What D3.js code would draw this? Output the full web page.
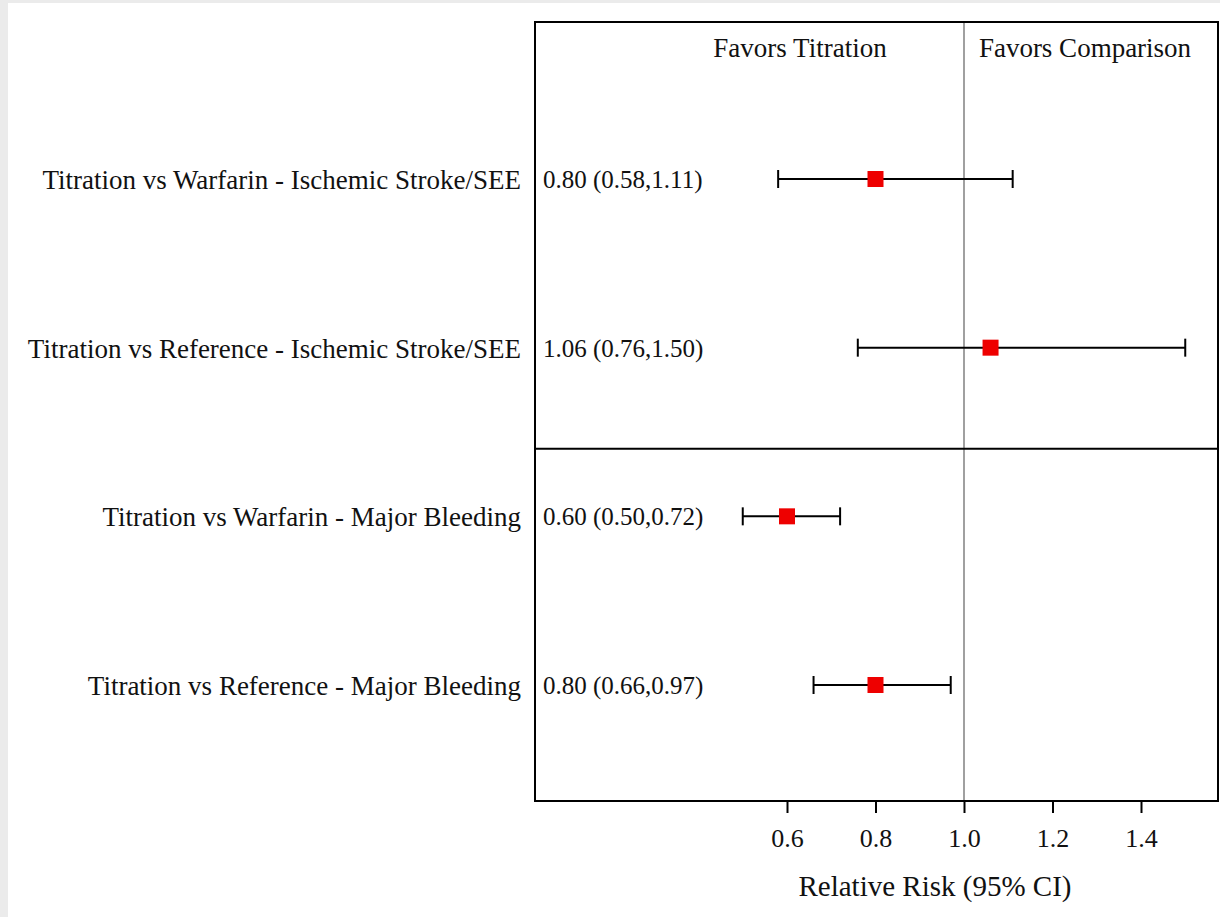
<!DOCTYPE html>
<html>
<head>
<meta charset="utf-8">
<script src="https://cdn.jsdelivr.net/npm/d3@7"></script>
<style>
  body { margin: 0; background: #ebebeb; }
  svg { display: block; }
  text { font-family: "Liberation Serif", "Times New Roman", serif; fill: #111; }
</style>
</head>
<body>
<div id="chart"></div>
<script>
const labels = [
  'Titration vs Warfarin - Ischemic Stroke/SEE',
  'Titration vs Reference - Ischemic Stroke/SEE',
  'Titration vs Warfarin - Major Bleeding',
  'Titration vs Reference - Major Bleeding'
];
const estimates = [0.80, 1.06, 0.60, 0.80];
const lower = [0.58, 0.76, 0.50, 0.66];
const upper = [1.11, 1.50, 0.72, 0.97];
const ticks = [0.6, 0.8, 1.0, 1.2, 1.4];
const headers = ['Favors Titration', 'Favors Comparison'];

const width = 1220, height = 917;
const frameL = 535, frameR = 1218, frameT = 22, frameB = 801;

const svg = d3.select('#chart').append('svg')
  .attr('width', width)
  .attr('height', height);

// white page with grey edge strip
svg.append('rect')
  .attr('x', 8).attr('y', 3)
  .attr('width', width - 8).attr('height', height - 3)
  .attr('fill', '#fff');

const x = d3.scaleLinear().domain([0.6, 1.4]).range([787, 1141]);
const y = d3.scaleLinear().domain([0, 3]).range([179, 685]);

// 1.0 reference line
svg.append('line')
  .attr('x1', x(1)).attr('x2', x(1))
  .attr('y1', frameT).attr('y2', frameB)
  .attr('stroke', '#808080').attr('stroke-width', 1.5);

// divider between outcome groups
svg.append('line')
  .attr('x1', frameL).attr('x2', frameR)
  .attr('y1', y(1.6)).attr('y2', y(1.6))
  .attr('stroke', '#000').attr('stroke-width', 2);

svg.append('rect')
  .attr('x', frameL).attr('y', frameT)
  .attr('width', frameR - frameL).attr('height', frameB - frameT)
  .attr('fill', 'none')
  .attr('stroke', '#000').attr('stroke-width', 2);

// headers
svg.append('text')
  .attr('x', 800).attr('y', 57)
  .attr('text-anchor', 'middle').attr('font-size', 27)
  .text(headers[0]);
svg.append('text')
  .attr('x', 1085).attr('y', 57)
  .attr('text-anchor', 'middle').attr('font-size', 27)
  .text(headers[1]);

const rows = labels.map((l, i) => ({ label: l, est: estimates[i], lo: lower[i], hi: upper[i], i }));

const g = svg.selectAll('g.row').data(rows).enter().append('g').attr('class', 'row');

g.append('text')
  .attr('x', 521).attr('y', d => y(d.i) + 10)
  .attr('text-anchor', 'end').attr('font-size', 27)
  .text(d => d.label);

g.append('text')
  .attr('x', 543).attr('y', d => y(d.i) + 9)
  .attr('font-size', 25)
  .text(d => `${d.est.toFixed(2)} (${d.lo.toFixed(2)},${d.hi.toFixed(2)})`);

g.append('line')
  .attr('x1', d => x(d.lo)).attr('x2', d => x(d.hi))
  .attr('y1', d => y(d.i)).attr('y2', d => y(d.i))
  .attr('stroke', '#000').attr('stroke-width', 2);

g.selectAll('line.cap').data(d => [d.lo, d.hi].map(v => ({ v, i: d.i })))
  .enter().append('line').attr('class', 'cap')
  .attr('x1', d => x(d.v)).attr('x2', d => x(d.v))
  .attr('y1', d => y(d.i) - 9).attr('y2', d => y(d.i) + 9)
  .attr('stroke', '#000').attr('stroke-width', 2);

g.append('rect')
  .attr('x', d => x(d.est) - 8).attr('y', d => y(d.i) - 8)
  .attr('width', 16).attr('height', 16)
  .attr('fill', '#ee0000');

// x axis
const xAxis = d3.axisBottom(x).tickValues(ticks).tickFormat(d3.format('.1f')).tickSize(12).tickPadding(16);
const ax = svg.append('g')
  .attr('transform', `translate(0, ${frameB})`)
  .call(xAxis);
ax.select('.domain').remove();
ax.selectAll('line').attr('stroke', '#000').attr('stroke-width', 2);
ax.selectAll('text').attr('font-size', 26).attr('font-family', '"Liberation Serif", serif').attr('fill', '#111');

svg.append('text')
  .attr('x', 935).attr('y', 896)
  .attr('text-anchor', 'middle').attr('font-size', 29)
  .text('Relative Risk (95% CI)');
</script>
</body>
</html>
